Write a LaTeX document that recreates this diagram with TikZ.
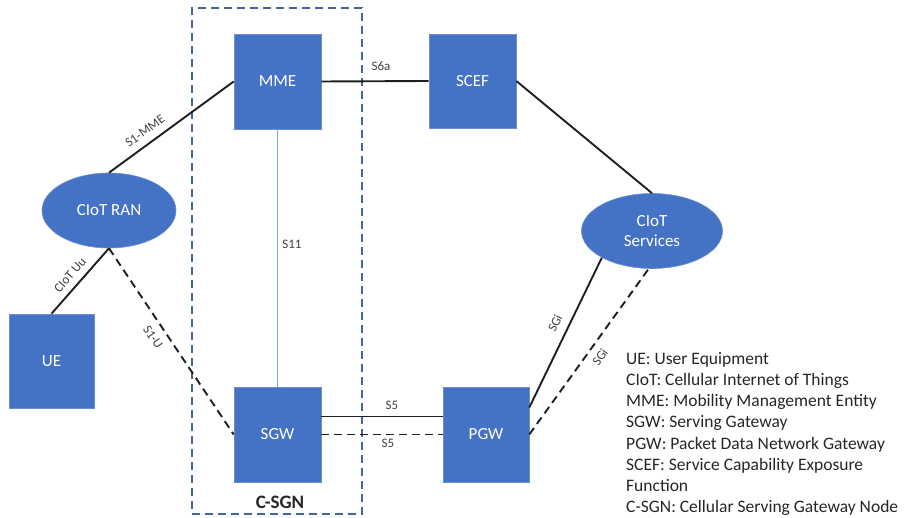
\documentclass[tikz,border=0pt]{standalone}
\usepackage{fontspec}
\setmainfont{Carlito}
\usetikzlibrary{shapes.geometric}
\definecolor{boxblue}{HTML}{4472C4}
\definecolor{boxedge}{HTML}{6A8FD0}
\definecolor{frameblue}{HTML}{41679F}
\definecolor{lightline}{HTML}{7EA2DD}
\definecolor{labelgray}{HTML}{404040}
\definecolor{legendgray}{HTML}{262626}
\begin{document}
\begin{tikzpicture}[x=1pt,y=-1pt,
  blk/.style={rectangle, fill=boxblue, draw=boxedge, line width=0.6pt, minimum width=86pt, minimum height=94pt, inner sep=0pt, text=white, font=\fontsize{17}{20}\selectfont},
  ell/.style={ellipse, fill=boxblue, draw=boxedge, line width=0.6pt, minimum width=134pt, minimum height=75pt, inner sep=0pt, text=white, align=center, font=\fontsize{17}{20}\selectfont},
  link/.style={line width=1.9pt, black!88},
  dlink/.style={link, dash pattern=on 8pt off 5pt},
  lbl/.style={text=labelgray, font=\fontsize{13}{15}\selectfont, inner sep=1pt}]
\useasboundingbox (0,0) rectangle (908,518);
% C-SGN frame
\node[draw=frameblue, dash pattern=on 8pt off 5pt, line width=1.9pt, minimum width=170pt, minimum height=506pt, inner sep=0pt] (frame) at (277,261) {};
\node[font=\fontsize{19}{22}\selectfont\bfseries, text=legendgray] (csgnlbl) at (280,502) {C-SGN};
% nodes
\node[blk, minimum width=87pt, minimum height=95pt] (mme) at (277.5,81.5) {MME};
\node[blk, minimum width=87pt] (scef) at (472.5,81) {SCEF};
\node[blk, minimum width=87pt, minimum height=95pt] (sgw) at (277.5,434.5) {SGW};
\node[blk, minimum width=86pt, minimum height=95pt] (pgw) at (486,434.5) {PGW};
\node[blk, minimum width=85pt] (ue) at (51.5,361) {UE};
\node[ell] (ran) at (109,210.5) {CIoT RAN};
\node[ell, minimum width=141pt] (svc) at (652,231) {CIoT\\Services};
% connectors
\draw[link] (ran.north) -- (mme.west);
\draw[link] (mme.east) -- (scef.west);
\draw[lightline, line width=1.2pt] (mme.south) -- (sgw.north);
\draw[link] (scef.east) -- (svc.north);
\draw[link] (ran.south) -- (ue.north);
\draw[dlink] (ran.south) -- (sgw.west);
\draw[link] ([yshift=18pt]sgw.east) -- ([yshift=18pt]pgw.west);
\draw[dlink] (sgw.east) -- (pgw.west);
\draw[link] ([yshift=27pt]pgw.east) -- (svc.208);
\draw[dlink] (pgw.east) -- (svc.265);
% connector labels
\node[lbl, rotate=35.8] (ls1mme) at (145,131) {S1-MME};
\node[lbl] (ls6a) at (381,66) {S6a};
\node[lbl] (ls11) at (292,244) {S11};
\node[lbl, rotate=49] (luu) at (70,275) {CIoT Uu};
\node[lbl, rotate=-55.7] (ls1u) at (153,337) {S1-U};
\node[lbl] (ls5a) at (392,405) {S5};
\node[lbl] (ls5b) at (388,443) {S5};
\node[lbl, rotate=63] (lsgia) at (555,323) {SGi};
\node[lbl, rotate=54] (lsgib) at (600,357) {SGi};
% legend
\node[anchor=north west, inner sep=0pt, align=left, text=legendgray, font=\fontsize{17.5}{21.2}\selectfont] (legend) at (626,352) {UE: User Equipment\\CIoT: Cellular Internet of Things\\MME: Mobility Management Entity\\SGW: Serving Gateway\\PGW: Packet Data Network Gateway\\SCEF: Service Capability Exposure\\Function\\C-SGN: Cellular Serving Gateway Node};
\end{tikzpicture}
\end{document}
